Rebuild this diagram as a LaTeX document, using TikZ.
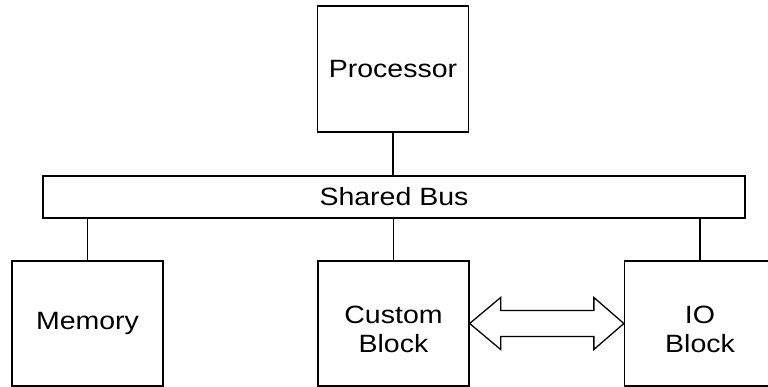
\documentclass[tikz,border=0pt]{standalone}
\usepackage{fontspec}
\setmainfont[FakeStretch=1.14]{Liberation Sans}
\usetikzlibrary{calc}
\begin{document}
\begin{tikzpicture}[x=1pt,y=-1pt,
  blk/.style={draw=black,line width=1.3pt,minimum width=151pt,minimum height=125pt,inner sep=0pt,align=center,font=\fontsize{25}{29}\selectfont},
  twoline/.style={text height=57pt,text depth=0pt},
  wire/.style={draw=black,line width=1.3pt},
  bus/.style={draw=black,line width=1.3pt,minimum width=702pt,minimum height=42pt,inner sep=0pt,font=\fontsize{25}{29}\selectfont}]
\useasboundingbox (0,0) rectangle (768,387);
\node[blk,minimum height=126pt] (proc) at (393,69) {Processor};
\node[bus] (bus) at (394,197) {Shared Bus};
\node[blk] (mem) at (87.5,323.5) {Memory};
\node[blk,twoline] (cb) at (393.5,323.5) {Custom\\Block};
\node[blk,twoline] (io) at (700,323.5) {IO\\Block};
\draw[wire] (proc.south) -- (proc.south |- bus.north);
\draw[wire] (mem.north) -- (mem.north |- bus.south);
\draw[wire] (cb.north) -- (cb.north |- bus.south);
\draw[wire] (io.north) -- (io.north |- bus.south);
\draw[wire,line join=miter] (cb.east) -- ($(cb.east)+(31,-26)$) -- ($(cb.east)+(31,-13)$)
  -- ($(io.west)+(-30,-13)$) -- ($(io.west)+(-30,-26)$) -- (io.west)
  -- ($(io.west)+(-30,26)$) -- ($(io.west)+(-30,13)$) -- ($(cb.east)+(31,13)$)
  -- ($(cb.east)+(31,26)$) -- cycle;
\end{tikzpicture}
\end{document}
